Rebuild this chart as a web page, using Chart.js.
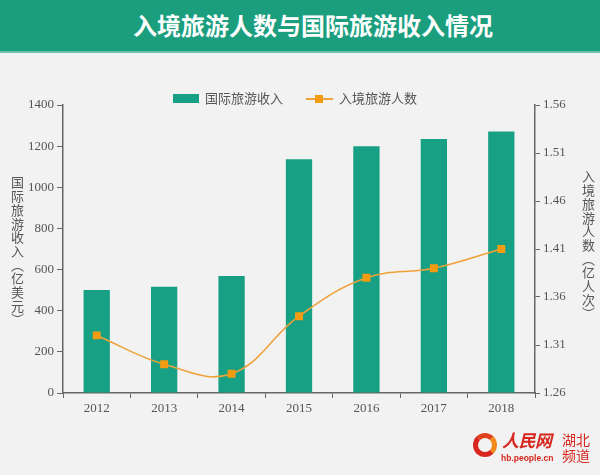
<!DOCTYPE html>
<html>
<head>
<meta charset="utf-8">
<script src="https://cdn.jsdelivr.net/npm/chart.js@4/dist/chart.umd.min.js"></script>
<style>
  html, body { margin:0; padding:0; background:#f2f2f2; }
  #wrap { position:relative; width:600px; height:475px; overflow:hidden; background:#f2f2f2; font-family:"Noto Sans CJK SC", sans-serif; }
  #titlebar { position:absolute; left:0; top:0; width:600px; height:51px; background:#1b9e7e; border-bottom:2px solid #6cc4ab; }
  #titlebar span { position:absolute; left:133px; top:0; line-height:50px; white-space:nowrap; color:#fff; font-size:24px; font-weight:bold; }
  canvas { position:absolute; left:0; top:0; }
  .vtitle { position:absolute; writing-mode:vertical-rl; text-orientation:mixed; font-size:13px; color:#555; line-height:14px; letter-spacing:0.7px; }
  #legend { position:absolute; top:89px; left:0; width:600px; height:18px; font-size:13px; color:#555; }
  .lg { position:absolute; top:0; line-height:18px; white-space:nowrap; }
  #logo { position:absolute; left:470px; top:428px; width:130px; height:45px; }
</style>
</head>
<body>
<div id="wrap">
  <canvas id="c" width="600" height="475"></canvas>
  <div id="titlebar"><span id="titletext"></span></div>
  <div id="legend">
    <div class="lg" style="left:173px;"><span style="display:inline-block;width:26px;height:9px;background:#17a083;vertical-align:middle;margin-top:-2px;"></span><span id="lg1" style="margin-left:6px;"></span></div>
    <div class="lg" style="left:306px;"><span style="display:inline-block;position:relative;width:27px;height:9px;vertical-align:middle;margin-top:-2px;"><span style="position:absolute;left:0;top:4px;width:27px;height:2px;background:#f0a23a;"></span><span style="position:absolute;left:9px;top:1px;width:8px;height:8px;background:#f39c12;"></span></span><span id="lg2" style="margin-left:6px;"></span></div>
  </div>
  <div class="vtitle" id="ytitleL" style="left:10px;top:176px;"></div>
  <div class="vtitle" id="ytitleR" style="left:581px;top:170px;"></div>
  <div id="logo">
    <div style="position:absolute;left:3px;top:5px;width:24px;height:24px;border-radius:50%;border:5px solid #d7261e;border-right-color:#f08a1c;border-top-color:#e0401a;box-sizing:border-box;"></div>
    <div style="position:absolute;left:12px;top:12px;width:9px;height:9px;border-radius:50%;background:#f2f2f2;"></div>
    <div style="position:absolute;left:32px;top:1px;font-family:'Noto Sans CJK SC';font-size:17px;font-weight:bold;font-style:italic;color:#d7261e;line-height:22px;letter-spacing:-0.5px;">人民网</div>
    <div style="position:absolute;left:31px;top:25px;font-family:'Liberation Sans';font-size:8.5px;font-weight:bold;color:#d7261e;line-height:10px;">hb.people.cn</div>
    <div style="position:absolute;left:92px;top:3px;font-family:'Noto Sans CJK SC';font-size:14px;color:#d7261e;line-height:16px;">湖北<br>频道</div>
  </div>
</div>
<script>
const chartTitle = "入境旅游人数与国际旅游收入情况";
const categories = ["2012", "2013", "2014", "2015", "2016", "2017", "2018"];
const revenueName = "国际旅游收入";
const arrivalsName = "入境旅游人数";
const revenue = [500.3, 516.6, 569.1, 1136.5, 1200.0, 1234.2, 1271.0];
const arrivals = [1.32, 1.29, 1.28, 1.34, 1.38, 1.39, 1.41];
const leftTicks = [0, 200, 400, 600, 800, 1000, 1200, 1400];
const rightTicks = [1.26, 1.31, 1.36, 1.41, 1.46, 1.51, 1.56];
const leftAxisTitle = "国际旅游收入（亿美元）";
const rightAxisTitle = "入境旅游人数（亿人次）";

document.getElementById('titletext').textContent = chartTitle;
document.getElementById('lg1').textContent = revenueName;
document.getElementById('lg2').textContent = arrivalsName;
document.getElementById('ytitleL').textContent = leftAxisTitle;
document.getElementById('ytitleR').textContent = rightAxisTitle;

const axisColor = '#666';
const tickFont = { family: "'Liberation Serif', serif", size: 13 };

new Chart(document.getElementById('c'), {
  type: 'bar',
  data: {
    labels: categories,
    datasets: [
      {
        type: 'line', label: arrivalsName, data: arrivals, yAxisID: 'y1', order: 0,
        borderColor: '#f0a23a', borderWidth: 1.6, tension: 0.4,
        pointStyle: 'rect', pointRadius: 5.6, pointBackgroundColor: '#f39c12', pointBorderColor: '#f39c12', pointBorderWidth: 0,
        fill: false
      },
      {
        type: 'bar', label: revenueName, data: revenue, yAxisID: 'y', order: 1,
        backgroundColor: '#17a083', barPercentage: 0.39, categoryPercentage: 1.0
      }
    ]
  },
  options: {
    responsive: false,
    animation: false,
    layout: { padding: { top: 105, left: 0, right: 0, bottom: 0 } },
    plugins: { legend: { display: false }, tooltip: { enabled: false }, title: { display: false } },
    scales: {
      x: {
        offset: true,
        grid: { display: true, offset: true, drawOnChartArea: false, drawTicks: true, tickLength: 5, color: axisColor, lineWidth: 1 },
        border: { display: true, color: axisColor, width: 1.5 },
        ticks: { color: '#555', font: tickFont, padding: 3, maxRotation: 0 },
        afterFit: s => { s.height = 82; }
      },
      y: {
        position: 'left', min: 0, max: 1400,
        afterBuildTicks: s => { s.ticks = leftTicks.map(v => ({ value: v })); },
        grid: { display: true, drawOnChartArea: false, drawTicks: true, tickLength: 6, color: axisColor },
        border: { display: true, color: axisColor, width: 1.5 },
        ticks: { color: '#555', font: tickFont, padding: 3, callback: v => String(v) },
        afterFit: s => { s.width = 63; }
      },
      y1: {
        position: 'right', min: 1.26, max: 1.56,
        afterBuildTicks: s => { s.ticks = rightTicks.map(v => ({ value: v })); },
        grid: { display: true, drawOnChartArea: false, drawTicks: true, tickLength: 5, color: axisColor },
        border: { display: true, color: axisColor, width: 1.5 },
        ticks: { color: '#555', font: tickFont, padding: 3, callback: v => Number(v).toFixed(2) },
        afterFit: s => { s.width = 65; }
      }
    }
  }
});
</script>
</body>
</html>
